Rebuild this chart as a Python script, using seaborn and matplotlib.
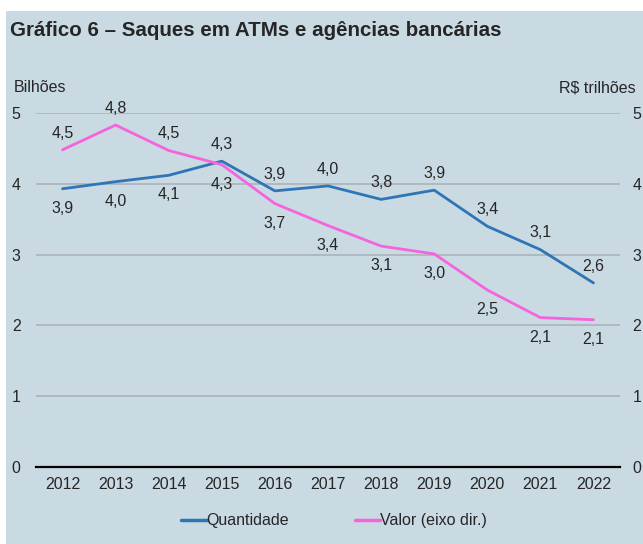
import numpy as np
import pandas as pd
import seaborn as sns
import matplotlib.pyplot as plt
from matplotlib.patches import Rectangle
from matplotlib.lines import Line2D

years = [2012, 2013, 2014, 2015, 2016, 2017, 2018, 2019, 2020, 2021, 2022]
quantidade = [3.93, 4.03, 4.12, 4.32, 3.90, 3.97, 3.78, 3.91, 3.40, 3.07, 2.60]
valor = [4.48, 4.83, 4.47, 4.27, 3.72, 3.41, 3.12, 3.01, 2.50, 2.11, 2.08]
quant_labels = ["3,9", "4,0", "4,1", "4,3", "3,9", "4,0", "3,8", "3,9", "3,4", "3,1", "2,6"]
valor_labels = ["4,5", "4,8", "4,5", "4,3", "3,7", "3,4", "3,1", "3,0", "2,5", "2,1", "2,1"]
# +1 = label above the point, -1 = below
quant_side = [-1, -1, -1, 1, 1, 1, 1, 1, 1, 1, 1]
valor_side = [1, 1, 1, -1, -1, -1, -1, -1, -1, -1, -1]

bg = "#c9dae3"
blue = "#2f75b5"
pink = "#f564dc"
fs = 11.5

sns.set_style("white")
plt.rcParams['font.family'] = ['Liberation Sans', 'DejaVu Sans']

df = pd.DataFrame({"pos": np.arange(len(years)), "quantidade": quantidade, "valor": valor})

fig = plt.figure(figsize=(6.43, 5.44), dpi=100)
fig.patch.set_facecolor("white")
fig.patches.append(Rectangle((6 / 643, 0), 1, 1 - 11 / 544, transform=fig.transFigure,
                             facecolor=bg, edgecolor="none", zorder=-10))

ax = fig.add_axes([36 / 643, 1 - 467 / 544, (620 - 36) / 643, (467 - 113) / 544])
ax.set_facecolor(bg)
ax2 = ax.twinx()

sns.lineplot(data=df, x="pos", y="quantidade", ax=ax, color=blue, linewidth=2.0)
sns.lineplot(data=df, x="pos", y="valor", ax=ax2, color=pink, linewidth=2.0)

for a in (ax, ax2):
    a.set_ylim(0, 5)
    a.set_xlim(-0.5, len(years) - 0.5)
    a.set_yticks(range(6))
    a.set_ylabel("")
    a.set_xlabel("")
    for s in ["top", "left", "right"]:
        a.spines[s].set_visible(False)

ax.grid(axis="y", color="#aab3b8", linewidth=1.2)
ax.spines["bottom"].set_color("black")
ax.spines["bottom"].set_linewidth(1.6)
ax2.spines["bottom"].set_visible(False)

ax.set_xticks(range(len(years)))
ax.set_xticklabels([str(y) for y in years], fontsize=fs)
ax.set_xticks(np.arange(-0.5, len(years)), minor=True)
ax.tick_params(axis="x", which="major", length=0, pad=7)
ax.tick_params(axis="x", which="minor", length=4, width=1.6, color="black", direction="out")
ax.tick_params(axis="y", length=0, pad=11, labelsize=fs)
ax2.tick_params(axis="y", length=0, pad=9, labelsize=fs)

for i in range(len(years)):
    qoff = 12 if quant_side[i] > 0 else -14
    voff = 12 if valor_side[i] > 0 else -14
    ax.annotate(quant_labels[i], (i, quantidade[i]), xytext=(0, qoff),
                textcoords="offset points", ha="center", va="center", fontsize=fs)
    ax2.annotate(valor_labels[i], (i, valor[i]), xytext=(0, voff),
                 textcoords="offset points", ha="center", va="center", fontsize=fs)

fig.text(10 / 643, 1 - 31 / 544, "Gráfico 6 – Saques em ATMs e agências bancárias",
         fontsize=14.8, fontweight="bold", va="center", ha="left")
fig.text(14 / 643, 1 - 88 / 544, "Bilhões", fontsize=fs, va="center", ha="left")
fig.text(636 / 643, 1 - 88 / 544, "R$ trilhões", fontsize=fs, va="center", ha="right")

handles = [Line2D([], [], color=blue, linewidth=2.5), Line2D([], [], color=pink, linewidth=2.5)]
fig.legend(handles, ["Quantidade", "Valor (eixo dir.)"], loc="center", ncol=2,
           bbox_to_anchor=(334 / 643, 1 - 521 / 544), frameon=False, fontsize=fs,
           handlelength=1.6, handletextpad=0.0, columnspacing=4.1)

fig.savefig("out.png", dpi=100, facecolor=fig.get_facecolor())
